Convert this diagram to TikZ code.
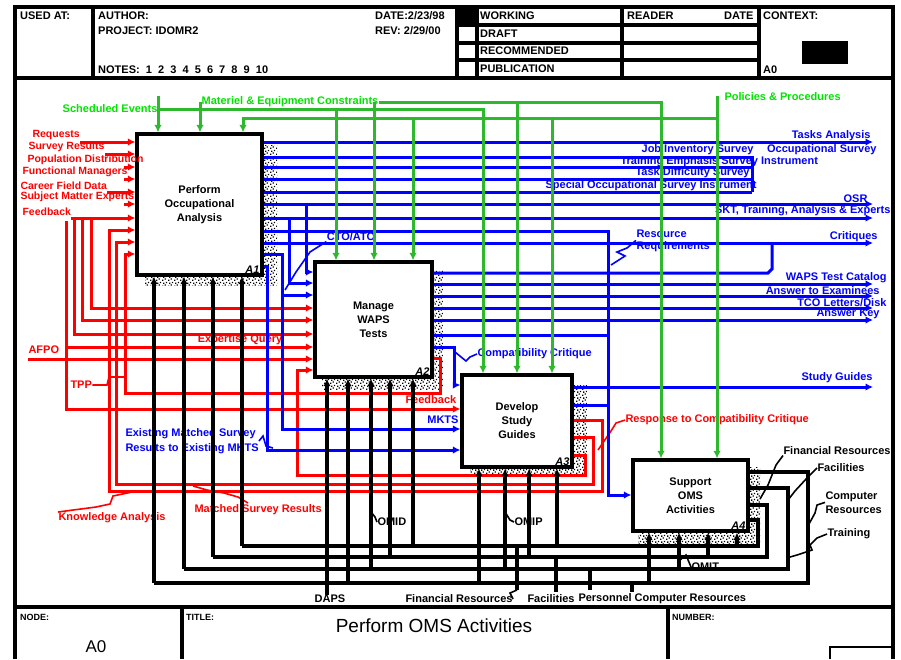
\documentclass[tikz,border=0pt]{standalone}
\usepackage{fontspec}
\setmainfont{Liberation Sans}
\usetikzlibrary{arrows.meta,patterns,calc}
\definecolor{gln}{RGB}{46,184,46}
\definecolor{glb}{RGB}{0,228,0}
\definecolor{rd}{RGB}{255,0,0}
\definecolor{bl}{RGB}{0,0,255}
\pgfdeclarepatternformonly{spk}{\pgfpointorigin}{\pgfpoint{6pt}{6pt}}{\pgfpoint{6pt}{6pt}}{%
 \pgfpathrectangle{\pgfpoint{0pt}{0pt}}{\pgfpoint{1.6pt}{1.6pt}}%
 \pgfpathrectangle{\pgfpoint{3pt}{1.5pt}}{\pgfpoint{1.6pt}{1.6pt}}%
 \pgfpathrectangle{\pgfpoint{1.2pt}{3.6pt}}{\pgfpoint{1.6pt}{1.6pt}}%
 \pgfpathrectangle{\pgfpoint{4.4pt}{4.4pt}}{\pgfpoint{1.6pt}{1.6pt}}%
 \pgfusepath{fill}}
\begin{document}
\begin{tikzpicture}[x=1pt,y=-1pt,
 frame/.style={line width=3.2pt,black},
 box/.style={draw,line width=3.2pt,fill=white,inner sep=0pt,align=center,font=\fontsize{11}{14}\selectfont\bfseries},
 stip/.style={pattern=spk,pattern color=black},
 arr/.style={-{Latex[length=7.5pt,width=7.5pt]}},
 gl/.style={draw=gln,line width=3pt},
 rl/.style={draw=rd,line width=3pt},
 bln/.style={draw=bl,line width=3pt},
 kl/.style={draw=black,line width=3.2pt},
 sq/.style={line width=1.6pt},
 lab/.style={inner sep=0.3pt,font=\fontsize{11}{12}\selectfont\bfseries},
 glab/.style={lab,text=glb},
 rlab/.style={lab,text=rd},
 rlabs/.style={rlab,font=\fontsize{10.5}{11}\selectfont\bfseries},
 blab/.style={lab,text=bl},
 klab/.style={lab,text=black},
 hdr/.style={inner sep=0pt,anchor=west,font=\fontsize{11}{12}\selectfont\bfseries},
 shdr/.style={inner sep=0pt,anchor=west,font=\fontsize{9}{10}\selectfont\bfseries},
 idl/.style={inner sep=1pt,font=\fontsize{11}{12}\selectfont\bfseries\itshape},
]
\fill[white] (0,0) rectangle (901,659);
\useasboundingbox (0,0) rectangle (901,659);

% ---------- frame ----------
\draw[frame] (15,659) -- (15,7) -- (893,7) -- (893,659);
\draw[frame] (15,78) -- (893,78);
\draw[frame] (15,607) -- (893,607);
\draw[frame] (93,7) -- (93,78);
\draw[frame] (457,7) -- (457,78);
\draw[frame] (477,7) -- (477,78);
\draw[frame] (622,7) -- (622,78);
\draw[frame] (759,7) -- (759,78);
\draw[frame] (457,25) -- (759,25) (457,43) -- (759,43) (457,60) -- (759,60);
\fill (457,7) rectangle (477,25);
\fill (802,41) rectangle (848,64);
\draw[frame] (182,607) -- (182,659);
\draw[frame] (668,607) -- (668,659);
\draw[line width=2pt] (830,659) -- (830,647) -- (893,647);

% ---------- header text ----------
\node[hdr] (hUsed) at (20,16) {USED AT:};
\node[hdr] (hAuth) at (98,16) {AUTHOR:};
\node[hdr] (hProj) at (98,31) {PROJECT: IDOMR2};
\node[hdr] (hNotes) at (98,70) {NOTES:\ \ 1\ \ 2\ \ 3\ \ 4\ \ 5\ \ 6\ \ 7\ \ 8\ \ 9\ \ 10};
\node[hdr] (hDate) at (375,16) {DATE:2/23/98};
\node[hdr] (hRev) at (375,31) {REV: 2/29/00};
\node[hdr] (hWork) at (480,16) {WORKING};
\node[hdr] (hDraft) at (480,34) {DRAFT};
\node[hdr] (hRec) at (480,51) {RECOMMENDED};
\node[hdr] (hPub) at (480,69) {PUBLICATION};
\node[hdr] (hRead) at (627,16) {READER};
\node[hdr] (hDate2) at (724,16) {DATE};
\node[hdr] (hCtx) at (763,16) {CONTEXT:};
\node[hdr] (hA0) at (763,70) {A0};

% ---------- bottom block ----------
\node[shdr] (bNode) at (20,617) {NODE:};
\node[inner sep=0pt,font=\fontsize{17}{18}\selectfont] (bA0) at (96,647) {A0};
\node[shdr] (bTitle) at (186,617) {TITLE:};
\node[inner sep=0pt,font=\fontsize{19}{20}\selectfont] (bT) at (434,626) {Perform OMS Activities};
\node[shdr] (bNum) at (672,617) {NUMBER:};

% ---------- shadows ----------
\path[stip] (145,145) rectangle (277,285);
\path[stip] (322,270) rectangle (443,389);
\path[stip] (470,385) rectangle (587,474);
\path[stip] (638,467) rectangle (760,545);

% ---------- boxes ----------
\node[box,minimum width=125pt,minimum height=141pt] (A1) at (199.5,204.5) {Perform\\Occupational\\Analysis};
\node[box,minimum width=117pt,minimum height=115pt] (A2) at (373.5,319.5) {Manage\\WAPS\\Tests};
\node[box,minimum width=110pt,minimum height=92pt] (A3) at (517,421) {Develop\\Study\\Guides};
\node[box,minimum width=115pt,minimum height=71pt] (A4) at (690.5,495.5) {Support\\OMS\\Activities};
\node[idl,anchor=south east] (i1) at ($(A1.south east)+(-3,-2)$) {A1};
\node[idl,anchor=south east] (i2) at ($(A2.south east)+(-3,-2)$) {A2};
\node[idl,anchor=south east] (i3) at ($(A3.south east)+(-3,-2)$) {A3};
\node[idl,anchor=south east] (i4) at ($(A4.south east)+(-3,-2)$) {A4};

% ---------- red inputs / feedback ----------
\node[rlabs,anchor=south west] (rq) at (32,140) {Requests};
\node[rlabs,anchor=south west] (sr) at (28,152.5) {Survey Results};
\node[rlabs,anchor=south west] (pd) at (27,165) {Population Distribution};
\node[rlabs,anchor=south west] (fm) at (22,177.5) {Functional Managers};
\node[rlabs,anchor=south west] (cf) at (20,190) {Career Field Data};
\node[rlabs,anchor=south west] (sm) at (20,202.5) {Subject Matter Experts};
\node[rlabs,anchor=south west] (fb) at (22,216) {Feedback};
\draw[rl,arr] (rq.south east |- 0,142) -- (A1.west |- 0,142);
\draw[rl,arr] (sr.south east |- 0,154) -- (A1.west |- 0,154);
\draw[rl,arr] (124,167) -- (A1.west |- 0,167);
\draw[rl,arr] (124,179) -- (A1.west |- 0,179);
\draw[rl,arr] (cf.south east |- 0,192) -- (A1.west |- 0,192);
\draw[rl,arr] (124,204) -- (A1.west |- 0,204);
\draw[rl,arr] (fb.south east |- 0,218) -- (A1.west |- 0,218);
\draw[rl,arr] (91,219) -- (91,308) -- (A2.west |- 0,308);
\draw[rl,arr] (82,219) -- (82,320) -- (A2.west |- 0,320);
\draw[rl,arr] (74,219) -- (74,334) -- (A2.west |- 0,334);
\draw[rl,arr] (66,221) -- (66,409) -- (A3.west |- 0,409);
\draw[rl,arr] (66,347) -- (A2.west |- 0,347);
\node[rlab,anchor=south west] (afpo) at (28,354) {AFPO};
\draw[rl,arr] (afpo.south west |- 0,359) -- (A2.west |- 0,359);
\node[rlab] (eq) at (240,340) {Expertise Query};
\draw[rl,arr] (A2.east |- 0,358) -- (440,358) -- (440,393) -- (125,393) -- (125,254) -- (A1.west |- 0,254);
\draw[rl,arr] (A3.east |- 0,420) -- (602,420) -- (602,491) -- (109,491) -- (109,230) -- (A1.west |- 0,230);
\draw[rl,arr] (A3.east |- 0,437) -- (593,437) -- (593,484) -- (116,484) -- (116,242) -- (A1.west |- 0,242);
\draw[rl,arr] (A3.east |- 0,455) -- (585,455) -- (585,475) -- (297,475) -- (297,370) -- (A2.west |- 0,370);
\node[rlab,anchor=west] (tpp) at (70,385) {TPP};
\draw[rd,sq] (tpp.east) -- (107,385) -- (109,377) -- (125,377);
\node[rlab,anchor=west] (fb2) at (405,400) {Feedback};
\node[rlab,anchor=west] (ka) at (58,518) {Knowledge Analysis};
\draw[rd,sq] (132,492) -- (113,496) -- (110,504) -- (96,507) -- (ka.north west |- 0,512);
\node[rlab,anchor=west] (msr) at (194,510) {Matched Survey Results};
\draw[rd,sq] (193,486) -- (207,490) -- (224,493) -- (238,497) -- (248,503);
\node[rlab,anchor=west] (rcc) at (625,420) {Response to Compatibility Critique};
\draw[rd,sq] (598,450) -- (611,431) -- (616,423) -- (rcc.west);

% ---------- blue outputs ----------
\draw[bln,arr] (A1.east |- 0,142) -- (873,142);
\draw[bln] (A1.east |- 0,157) -- (752,157) -- (752,192);
\draw[bln] (A1.east |- 0,167) -- (752,167);
\draw[bln] (A1.east |- 0,179) -- (752,179);
\draw[bln] (A1.east |- 0,192) -- (752,192);
\draw[bln,arr] (A1.east |- 0,204) -- (873,204);
\draw[bln,arr] (A1.east |- 0,218) -- (873,218);
\draw[bln,arr] (A1.east |- 0,231) -- (608,231) -- (608,495) -- (A4.west |- 0,495);
\draw[bln,arr] (A1.east |- 0,243) -- (873,243);
\draw[bln,arr] (A1.east |- 0,254) -- (282,254) -- (282,295) -- (A2.west |- 0,295);
\draw[bln,arr] (282,295) -- (282,429) -- (A3.west |- 0,429);
\draw[bln,arr] (A1.east |- 0,266) -- (267,266) -- (267,450) -- (A3.west |- 0,450);
\draw[bln,arr] (306,204) -- (306,272) -- (A2.west |- 0,272);
\draw[bln,arr] (289,218) -- (289,283) -- (A2.west |- 0,283);
\draw[bln] (A2.east |- 0,273) -- (768,273) -- (772,269) -- (772,243);
\draw[bln,arr] (A2.east |- 0,284) -- (873,284);
\draw[bln,arr] (A2.east |- 0,296) -- (873,296);
\draw[bln,arr] (A2.east |- 0,308) -- (873,308);
\draw[bln,arr] (A2.east |- 0,320) -- (873,320);
\draw[bln] (A2.east |- 0,335) -- (608,335);
\draw[bln,arr] (A2.east |- 0,347) -- (454,347) -- (454,385) -- (A3.west |- 0,385);
\draw[bln,arr] (A3.east |- 0,387) -- (873,387);
\draw[bln] (A3.east |- 0,405) -- (608,405);

\node[blab,anchor=south east] (ta) at (871,141) {Tasks Analysis};
\node[blab,anchor=east] (jis) at (754,150) {Job Inventory Survey};
\node[blab,anchor=east] (os) at (877,150) {Occupational Survey};
\node[blab,anchor=west] (tes) at (620,162) {Training Emphasis Survey Instrument};
\node[blab,anchor=west] (tds) at (635,173) {Task Difficulty Survey};
\node[blab,anchor=east] (sos) at (757,186) {Special Occupational Survey Instrument};
\node[blab,anchor=south east] (osr) at (868,203) {OSR};
\node[blab,anchor=east] (skt) at (891,211) {SKT, Training, Analysis \& Experts};
\node[blab,anchor=south east] (crit) at (878,242) {Critiques};
\node[blab,anchor=north west,align=left,font=\fontsize{11}{12}\selectfont\bfseries] (rr) at (636,229) {Resource\\Requirements};
\draw[bl,sq] (rr.west) -- (627,248) -- (617,252) -- (625,256) -- (611,265);
\node[blab] (cto) at (351,237) {CTO/ATO};
\draw[bl,sq] (cto.south west) -- (310,252) -- (296,272) -- (285,290);
\node[blab,anchor=south east] (wtc) at (887,283) {WAPS Test Catalog};
\node[blab,anchor=south east] (ate) at (880,295) {Answer to Examinees};
\node[blab,anchor=south east] (tco) at (887,307) {TCO Letters/Disk};
\node[blab,anchor=south east] (ak) at (880,319) {Answer Key};
\node[blab,anchor=west] (cc) at (477,354) {Compatibility Critique};
\draw[bl,sq] (455,352) -- (466,361) -- (470,357) -- (cc.west);
\node[blab,anchor=south east] (sg) at (873,383) {Study Guides};
\node[blab,anchor=east] (mk) at (459,420) {MKTS};
\node[blab,anchor=north west,align=left,font=\fontsize{11}{15}\selectfont\bfseries] (em) at (125,428) {Existing Matched Survey\\Results to Existing MKTS};
\draw[bl,sq] (259,441) -- (263,436) -- (266,446) -- (273,448);

% ---------- black mechanisms ----------
\draw[kl] (154,583) -- (808,583) -- (808,472) -- (A4.east |- 0,472);
\draw[kl] (184,569) -- (788,569) -- (788,488) -- (A4.east |- 0,488);
\draw[kl] (213,557) -- (767,557) -- (767,505) -- (A4.east |- 0,505);
\draw[kl] (242,546) -- (758,546) -- (758,520) -- (A4.east |- 0,520);
\foreach \x/\y in {154/583,184/569,213/557,242/546}
  \draw[kl,arr] (\x,\y) -- (\x,0 |- A1.south);
\foreach \x/\y in {348/583,371/569,390/557,413/546}
  \draw[kl,arr] (\x,\y) -- (\x,0 |- A2.south);
\foreach \x/\y in {479/583,505/569,529/557,557/546}
  \draw[kl,arr] (\x,\y) -- (\x,0 |- A3.south);
\foreach \x/\y in {649/583,679/569,708/557,737/546}
  \draw[kl,arr] (\x,\y) -- (\x,0 |- A4.south);
\node[klab] (daps) at (330,599) {DAPS};
\draw[kl,arr] (daps.north -| 327,0) -- (327,0 |- A2.south);
\node[klab,anchor=west] (bfr) at (405,599) {Financial Resources};
\node[klab,anchor=west] (bfac) at (527,599) {Facilities};
\node[klab,anchor=west] (bpcr) at (578,599) {Personnel Computer Resources};
\draw[kl] (517,546) -- (517,590);
\draw[sq] (517,590) -- (510,593) -- (bfr.east);
\draw[kl] (556,557) -- (556,592);
\draw[kl] (590,569) -- (590,590);
\draw[kl] (632,583) -- (632,592);
\node[klab,anchor=west] (omid) at (377,522) {OMID};
\draw[sq] (371,512) -- (375,517) -- (omid.west);
\node[klab,anchor=west] (omip) at (514,522) {OMIP};
\draw[sq] (505,512) -- (510,520) -- (omip.west);
\node[klab,anchor=west] (omit) at (691,567) {OMIT};
\draw[sq] (680,560) -- (686,555) -- (omit.west);
\node[klab,anchor=west] (rfr) at (783,451) {Financial Resources};
\node[klab,anchor=west] (rfac) at (817,468) {Facilities};
\node[klab,anchor=north west,align=left,font=\fontsize{11}{14}\selectfont\bfseries] (rcr) at (825,491) {Computer\\Resources};
\node[klab,anchor=west] (rtr) at (827,534) {Training};
\draw[sq] (rfr.south west) -- (776,465) -- (768,485) -- (760,499);
\draw[sq] (rfac.west) -- (807,478) -- (795,491) -- (788,500);
\draw[sq] (rcr.west) -- (817,505) -- (815,513) -- (809,524);
\draw[sq] (rtr.west) -- (817,538) -- (810,545) -- (812,550) -- (797,555) -- (790,557);

% ---------- green controls ----------
\draw[gl,arr] (158,96) -- (158,0 |- A1.north);
\draw[gl,arr] (158,109) -- (483,109) -- (483,0 |- A3.north);
\draw[gl,arr] (336,109) -- (336,0 |- A2.north);
\node[glab] (gME) at (290,102) {Materiel \& Equipment Constraints};
\draw[gl,arr] (gME.east) -- (661,102) -- (661,0 |- A4.north);
\draw[gl,arr] (200,102) -- (200,0 |- A1.north);
\draw[gl,arr] (374,102) -- (374,0 |- A2.north);
\draw[gl,arr] (517,102) -- (517,0 |- A3.north);
\draw[gl,arr] (717,96) -- (717,0 |- A4.north);
\draw[gl,arr] (717,118) -- (243,118) -- (243,0 |- A1.north);
\draw[gl,arr] (413,118) -- (413,0 |- A2.north);
\draw[gl,arr] (552,118) -- (552,0 |- A3.north);
\node[glab,anchor=east] (gSE) at (158,109) {Scheduled Events};
\node[glab,anchor=west] (gPP) at (724,97) {Policies \& Procedures};
\end{tikzpicture}
\end{document}
